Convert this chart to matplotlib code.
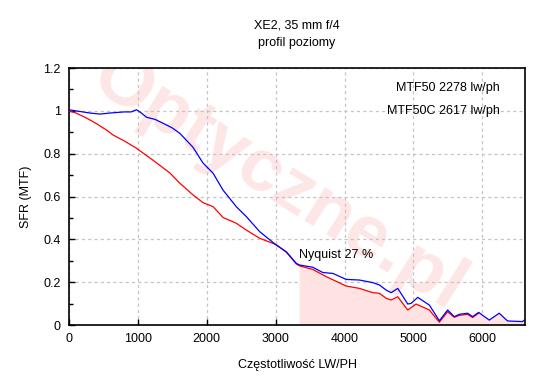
import numpy as np
import matplotlib
matplotlib.use('Agg')
import matplotlib.pyplot as plt
from matplotlib.ticker import MultipleLocator

# ========================================
# dane
# ========================================
mtf_x = [0, 100, 300, 450, 600, 800, 900, 980, 1050, 1125, 1250, 1416, 1500, 1609,
         1800, 1946, 2091, 2236, 2430, 2575, 2768, 3010, 3155, 3300, 3348, 3536,
         3686, 3831, 4024, 4217, 4410, 4507, 4604, 4676, 4773, 4918, 4966, 5063,
         5232, 5377, 5497, 5594, 5667, 5787, 5860, 5947, 6101, 6246, 6367, 6584, 6609]
mtf_y = [1.005, 1.0, 0.99, 0.985, 0.99, 0.995, 0.995, 1.005, 0.99, 0.97, 0.96, 0.934,
         0.92, 0.895, 0.83, 0.756, 0.709, 0.63, 0.552, 0.506, 0.436, 0.373, 0.342,
         0.288, 0.28, 0.27, 0.245, 0.241, 0.213, 0.21, 0.198, 0.187, 0.163, 0.151,
         0.171, 0.098, 0.101, 0.129, 0.093, 0.02, 0.07, 0.039, 0.05, 0.055, 0.039,
         0.059, 0.023, 0.055, 0.019, 0.016, 0.023]

mtfc_x = [0, 100, 256, 400, 546, 640, 800, 981, 1217, 1464, 1609, 1802, 1946, 2091,
          2236, 2430, 2575, 2768, 3010, 3155, 3300, 3348, 3536, 3734, 4024, 4217,
          4410, 4507, 4604, 4676, 4773, 4918, 5039, 5232, 5377, 5497, 5594, 5667,
          5787, 5860, 5947]
mtfc_y = [1.0, 0.99, 0.966, 0.94, 0.91, 0.887, 0.86, 0.825, 0.77, 0.71, 0.662, 0.607,
          0.571, 0.553, 0.502, 0.475, 0.443, 0.405, 0.375, 0.34, 0.285, 0.276, 0.26,
          0.226, 0.182, 0.171, 0.151, 0.148, 0.125, 0.117, 0.132, 0.07, 0.098, 0.07,
          0.013, 0.062, 0.036, 0.045, 0.05, 0.035, 0.055]

nyquist = 3340
x_max = 6620
mtf50_text = 'MTF50 2278 lw/ph'
mtf50c_text = 'MTF50C 2617 lw/ph'
nyq_text = 'Nyquist 27 %'

plt.rcParams['font.family'] = ['Liberation Sans', 'DejaVu Sans']

fig = plt.figure(figsize=(5.5, 3.8), dpi=100)
ax = fig.add_axes([0.1255, 0.1447, 0.829, 0.6763])

# znak wodny
ax.text(0.46, 0.55, 'Optyczne.pl', transform=ax.transAxes, rotation=-32,
        fontsize=54, fontweight='bold', color='#fde6e6',
        ha='center', va='center', zorder=0, clip_on=True)

# obszar powyzej Nyquista
fx = [nyquist] + [x for x in mtfc_x if x > nyquist] + [m for m in mtf_x if m > mtfc_x[-1]]
fy = [0.277] + [y for x, y in zip(mtfc_x, mtfc_y) if x > nyquist] + \
     [y for m, y in zip(mtf_x, mtf_y) if m > mtfc_x[-1]]
ax.fill_between(fx, 0, fy, color='#ffe2e2', linewidth=0, zorder=1)

ax.plot(mtfc_x, mtfc_y, color='red', linewidth=0.9, zorder=3)
ax.plot(mtf_x, mtf_y, color='blue', linewidth=0.9, zorder=4)

ax.set_xlim(0, x_max)
ax.set_ylim(0, 1.2)
ax.xaxis.set_major_locator(MultipleLocator(1000))
ax.yaxis.set_major_locator(MultipleLocator(0.2))
ax.yaxis.set_minor_locator(MultipleLocator(0.1))
ax.yaxis.set_major_formatter(plt.FuncFormatter(lambda v, p: f'{v:g}'))
ax.tick_params(direction='in', length=4, width=1, labelsize=9, pad=6)
ax.tick_params(which='minor', direction='in', length=3, width=1)
ax.tick_params(top=False, right=False)
ax.grid(True, which='major', color='#c4c4c4', linestyle=(0, (2.5, 2.5)), linewidth=0.9)
ax.set_axisbelow(True)
for s in ax.spines.values():
    s.set_linewidth(1.2)

ax.text(6250, 1.107, mtf50_text, ha='right', va='center', fontsize=9)
ax.text(6250, 1.0, mtf50c_text, ha='right', va='center', fontsize=9)
ax.text(nyquist, 0.327, nyq_text, ha='left', va='center', fontsize=9, zorder=5)

ax.set_xlabel('Częstotliwość LW/PH', fontsize=9, labelpad=10)
ax.set_ylabel('SFR (MTF)', fontsize=9, labelpad=8)
fig.text(0.539, 0.932, 'XE2, 35 mm f/4', ha='center', va='center', fontsize=9)
fig.text(0.539, 0.887, 'profil poziomy', ha='center', va='center', fontsize=9)

fig.savefig('out.png', dpi=100)
